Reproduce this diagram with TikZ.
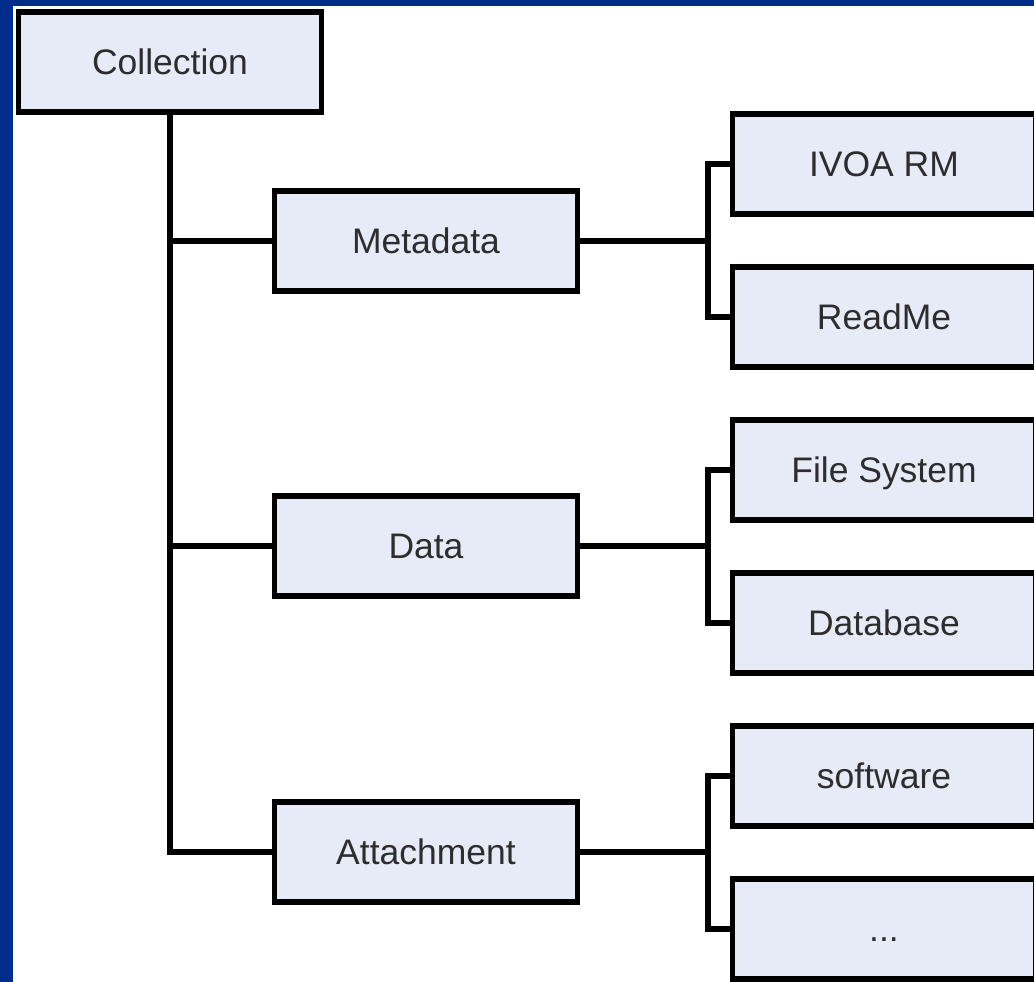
\documentclass[tikz,border=0pt]{standalone}
\usepackage{fontspec}
\setmainfont{Liberation Sans}
\usepackage{xcolor}
\usepackage{tikz}
\usetikzlibrary{positioning,calc}

\definecolor{slideblue}{RGB}{0,45,140}
\definecolor{boxfill}{RGB}{230,235,247}
\definecolor{boxtext}{RGB}{45,45,45}

\begin{document}
\begin{tikzpicture}[
					x=0.02cm, y=-0.02cm,
					mybox/.style={
						rectangle, draw=black, fill=boxfill, line width=0.11cm,
						minimum width=6.06cm, minimum height=2.0cm, inner sep=0pt,
						text height=14.5pt, text depth=0pt,
						text=boxtext, font=\fontsize{20.2}{24}\selectfont
					},
					link/.style={draw=black, line width=0.11cm}
					]
					
					% --- nen slide ---
					\useasboundingbox (0,0) rectangle (1034,982);
					\clip (0,0) rectangle (1034,982);
					\fill[slideblue] (0,0) rectangle (1034,982);
					\fill[white] (12.5,6) rectangle (1034,982);
					
					% --- goc ---
					\node[mybox] (coll) at (170,62) {Collection};
					
					% --- cap 1 ---
					\node[mybox] (meta) at (426,241) {Metadata};
					\node[mybox] (data) at (426,546) {Data};
					\node[mybox] (att)  at (426,852) {Attachment};
					
					% --- cap 2 ---
					\node[mybox] (ivoa)   at (884,164) {IVOA RM};
					\node[mybox] (readme) at (884,317) {ReadMe};
					\node[mybox] (fsys)   at (884,470) {File System};
					\node[mybox] (dbase)  at (884,623) {Database};
					\node[mybox] (soft)   at (884,776) {software};
					\node[mybox] (more)   at (884,929) {...};
					
					% --- than chinh ---
					\draw[link] (coll.south) |- (att.west);
					\draw[link] (coll.south |- meta.west) -- (meta.west);
					\draw[link] (coll.south |- data.west) -- (data.west);
					
					% --- nhanh phai ---
					\draw[link] (meta.east) -- ++(128,0) coordinate (jm);
					\draw[link] (ivoa.west) -| (jm) |- (readme.west);
					\draw[link] (data.east) -- ++(128,0) coordinate (jd);
					\draw[link] (fsys.west) -| (jd) |- (dbase.west);
					\draw[link] (att.east) -- ++(128,0) coordinate (ja);
					\draw[link] (soft.west) -| (ja) |- (more.west);
					
				\end{tikzpicture}
\end{document}
